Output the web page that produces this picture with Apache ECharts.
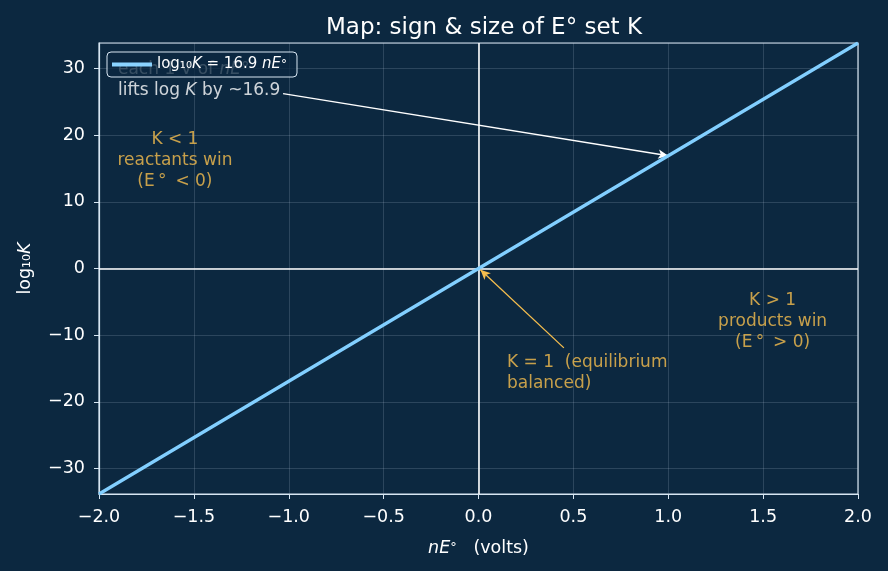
<!DOCTYPE html>
<html><head><meta charset="utf-8">
<script src="https://cdn.jsdelivr.net/npm/echarts@6/dist/echarts.min.js"></script>
<style>html,body{margin:0;padding:0;background:#0c2840;}#c{width:888px;height:571px;}</style>
</head><body><div id="c"></div>
<script>
// Data
const lineX = [-2, 0, 2];
const lineY = [-33.8, 0, 33.8];
const xTicks = [-2.0, -1.5, -1.0, -0.5, 0.0, 0.5, 1.0, 1.5, 2.0];
const yTicks = [-30, -20, -10, 0, 10, 20, 30];
const notesText = [
  'K < 1\nreactants win\n(E\u2009°\u2009 < 0)',
  'K > 1\nproducts win\n(E\u2009°\u2009 > 0)',
  'K = 1  (equilibrium\nbalanced)',
  'each 1 V of {i|nE}°\nlifts log {i|K} by ~16.9'
];
const notesX = [-1.6, 1.55, 0.15, -1.9];
const notesY = [16.2, -8, -15.7, 28.3];
const arrowFrom = [[0.45, -11.9], [-1.03, 26.2]];
const arrowTo = [[0.01, -0.2], [1, 16.9]];

const FONT = 'DejaVu Sans';
const AX = '#d8e6f2';
const ORANGE = '#f6be4e';
const TICK = 17.5;
const fmtMinus = v => String(v).replace('-', '\u2212');

const chart = echarts.init(document.getElementById('c'));
const notesData = notesText.map((t, i) => {
  const col = i < 3 ? ORANGE : '#ffffff';
  return {
    name: t,
    value: [notesX[i], notesY[i]],
    label: {
      color: col, align: i >= 2 ? 'left' : 'center',
      rich: {i: {fontStyle: 'italic', color: col, fontFamily: FONT, fontSize: 17, lineHeight: 21}}
    }
  };
});

chart.setOption({
  backgroundColor: '#0c2840',
  animation: false,
  title: {
    text: 'Map: sign & size of E° set K',
    left: 479, top: 12, textAlign: 'center',
    textStyle: {color: '#ffffff', fontFamily: FONT, fontSize: 23, fontWeight: 'normal'}
  },
  legend: {
    left: 107, top: 52,
    data: [{name: 'fit', icon: 'rect'}],
    backgroundColor: 'rgba(12,40,64,0.78)',
    borderColor: '#d8e6f2', borderWidth: 1, borderRadius: 4,
    padding: [5, 10, 5, 5],
    itemWidth: 40, itemHeight: 4,
    itemStyle: {color: '#8ad3ff', borderWidth: 0},
    formatter: () => '{n|log₁₀}{i|K}{n| = 16.9 }{i|nE}{s|°}',
    textStyle: {
      color: '#ffffff', fontFamily: FONT, fontSize: 15,
      rich: {
        n: {color: '#ffffff', fontFamily: FONT, fontSize: 15},
        i: {color: '#ffffff', fontFamily: FONT, fontSize: 15, fontStyle: 'italic'},
        s: {color: '#ffffff', fontFamily: FONT, fontSize: 12}
      }
    }
  },
  grid: {left: 99, right: 30, top: 43, bottom: 77, show: true, borderColor: AX, borderWidth: 1.2, backgroundColor: 'transparent'},
  xAxis: {
    type: 'value', min: -2, max: 2, interval: 0.5,
    name: '{i|nE}{s|°}{n|   (volts)}', nameLocation: 'middle', nameGap: 45,
    nameTextStyle: {color: '#ffffff', fontFamily: FONT, fontSize: TICK,
      rich: {i: {fontStyle: 'italic', color: '#fff', fontFamily: FONT, fontSize: TICK}, s: {color: '#fff', fontFamily: FONT, fontSize: 13}, n: {color: '#fff', fontFamily: FONT, fontSize: TICK}}},
    axisLine: {onZero: false, lineStyle: {color: AX, width: 1.2}},
    axisTick: {show: true, length: 5, lineStyle: {color: AX}},
    axisLabel: {color: '#ffffff', fontFamily: FONT, fontSize: TICK, margin: 14,
      formatter: v => xTicks.some(t => Math.abs(t - v) < 1e-9) ? fmtMinus(v.toFixed(1)) : ''},
    splitLine: {show: true, lineStyle: {color: 'rgba(200,215,230,0.22)', width: 0.8}}
  },
  yAxis: {
    type: 'value', min: -33.8, max: 33.8, splitNumber: 7,
    name: '{n|log₁₀}{i|K}', nameLocation: 'middle', nameGap: 65,
    nameTextStyle: {color: '#ffffff', fontFamily: FONT, fontSize: TICK,
      rich: {i: {fontStyle: 'italic', color: '#fff', fontFamily: FONT, fontSize: TICK}, n: {color: '#fff', fontFamily: FONT, fontSize: TICK}}},
    axisLine: {onZero: false, lineStyle: {color: AX, width: 1.2}},
    axisTick: {show: true, length: 5, lineStyle: {color: AX}},
    axisLabel: {color: '#ffffff', fontFamily: FONT, fontSize: TICK, margin: 14,
      showMinLabel: false, showMaxLabel: false,
      formatter: v => yTicks.includes(Math.round(v * 1000) / 1000) ? fmtMinus(v) : ''},
    splitLine: {show: true, lineStyle: {color: 'rgba(200,215,230,0.22)', width: 0.8}}
  },
  series: [
    {
      name: 'zero', type: 'line', data: [], silent: true,
      markLine: {
        silent: true, symbol: ['none', 'none'], label: {show: false},
        lineStyle: {color: '#ffffff', width: 1.6, type: 'solid'},
        data: [{xAxis: 0}, {yAxis: 0}]
      }
    },
    {
      name: 'fit', type: 'line', symbol: 'none', z: 5,
      data: lineX.map((x, i) => [x, lineY[i]]),
      lineStyle: {color: '#82cfff', width: 3.2},
      itemStyle: {color: '#82cfff'}
    },
    {
      name: 'notes', type: 'scatter', symbolSize: 0, silent: true, z: 3,
      data: notesData,
      label: {show: true, position: 'inside', formatter: p => p.name, fontFamily: FONT, fontSize: 17, lineHeight: 21},
      markLine: {
        silent: true, symbol: ['none', 'arrow'], symbolSize: [7, 10], label: {show: false},
        data: arrowFrom.map((f, i) => [
          {coord: f, lineStyle: {color: i === 0 ? ORANGE : '#ffffff', width: 1.3, type: 'solid'}},
          {coord: arrowTo[i]}
        ])
      }
    }
  ]
});
</script></body></html>
